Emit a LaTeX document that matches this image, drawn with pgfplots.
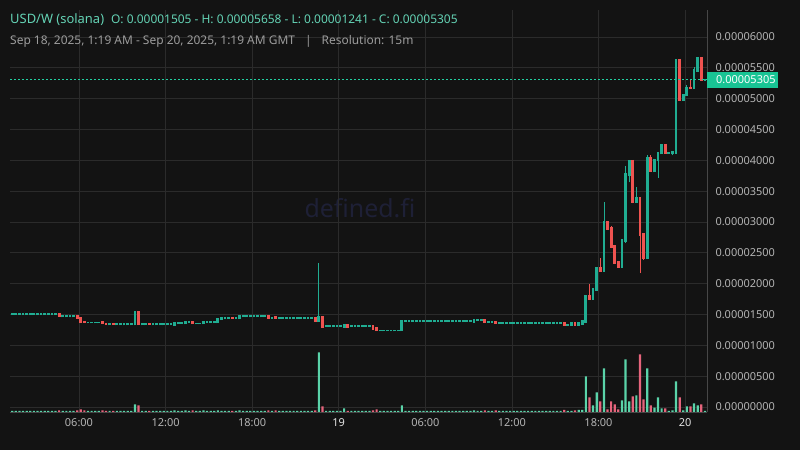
\documentclass[border=0pt]{standalone}
\usepackage{pgfplots}
\pgfplotsset{compat=1.18}
\usepackage{pgfplotstable}
\usepackage{fontspec}
\setmainfont{Noto Sans}

\definecolor{bg}{HTML}{131313}
\definecolor{gridcol}{HTML}{2B2B2B}
\definecolor{axisline}{HTML}{474747}
\definecolor{up}{HTML}{20AD92}
\definecolor{down}{HTML}{EF5350}
\definecolor{vup}{HTML}{5AD3A9}
\definecolor{vdown}{HTML}{E6647C}
\definecolor{closecol}{HTML}{18C494}
\definecolor{closeline}{HTML}{22CFA0}
\definecolor{titleteal}{HTML}{64D3B5}
\definecolor{subgrey}{HTML}{9C9C9C}
\definecolor{tickgrey}{HTML}{B4B4B4}
\definecolor{tickbright}{HTML}{E2E2E2}
\definecolor{wm}{HTML}{1E2036}

% 15m candles, i = index from Sep 18 01:15 GMT; prices in 1e-5, v = volume (relative)
\pgfplotstableread{
i o h l c v
0 1.505 1.505 1.505 1.505 1
1 1.505 1.505 1.505 1.505 1
2 1.505 1.505 1.505 1.505 1
3 1.505 1.505 1.505 1.505 1
4 1.505 1.505 1.505 1.505 1
5 1.505 1.505 1.505 1.505 1
6 1.505 1.505 1.505 1.505 1
7 1.505 1.505 1.505 1.505 1
8 1.505 1.505 1.505 1.505 1
9 1.505 1.505 1.505 1.505 1
10 1.505 1.505 1.505 1.505 1
11 1.505 1.505 1.505 1.505 1
12 1.505 1.505 1.505 1.505 1
13 1.505 1.505 1.465 1.470 1.7
14 1.47 1.47 1.47 1.47 1
15 1.47 1.47 1.47 1.47 1
16 1.47 1.47 1.47 1.47 1
17 1.47 1.47 1.47 1.47 1
18 1.47 1.47 1.435 1.435 1.7
19 1.44 1.44 1.38 1.38 2.7
20 1.385 1.385 1.37 1.37 1.7
21 1.37 1.37 1.37 1.37 1
22 1.37 1.37 1.37 1.37 1
23 1.37 1.37 1.37 1.37 1
24 1.37 1.37 1.37 1.37 1
25 1.375 1.375 1.355 1.355 1.7
26 1.355 1.355 1.34 1.34 1
27 1.34 1.34 1.34 1.34 1
28 1.345 1.345 1.34 1.34 1
29 1.34 1.34 1.34 1.34 1
30 1.34 1.34 1.34 1.34 1
31 1.34 1.34 1.34 1.34 1
32 1.34 1.34 1.34 1.34 1
33 1.34 1.34 1.34 1.34 1
34 1.34 1.54 1.34 1.54 7.7
35 1.54 1.54 1.34 1.34 6.7
36 1.34 1.34 1.34 1.34 1
37 1.34 1.34 1.34 1.34 1
38 1.345 1.345 1.34 1.34 1
39 1.34 1.34 1.34 1.34 1
40 1.34 1.34 1.34 1.34 1
41 1.34 1.34 1.34 1.34 1
42 1.34 1.34 1.34 1.34 1
43 1.34 1.34 1.34 1.34 1
44 1.34 1.34 1.34 1.34 1
45 1.335 1.36 1.335 1.36 1.7
46 1.357 1.357 1.357 1.357 1
47 1.357 1.357 1.357 1.357 1
48 1.355 1.375 1.355 1.375 1.7
49 1.375 1.375 1.375 1.375 1
50 1.375 1.375 1.355 1.355 1.7
51 1.355 1.355 1.355 1.355 1
52 1.355 1.355 1.355 1.355 1
53 1.355 1.375 1.355 1.375 1.7
54 1.373 1.373 1.373 1.373 1
55 1.373 1.373 1.373 1.373 1
56 1.373 1.373 1.373 1.373 1
57 1.37 1.43 1.37 1.43 1.7
58 1.425 1.445 1.425 1.44 1
59 1.44 1.44 1.44 1.44 1
60 1.44 1.44 1.44 1.44 1
61 1.443 1.443 1.438 1.438 1
62 1.438 1.438 1.438 1.438 1
63 1.435 1.47 1.435 1.47 1.7
64 1.47 1.47 1.47 1.47 1
65 1.47 1.47 1.47 1.47 1
66 1.47 1.47 1.47 1.47 1
67 1.47 1.47 1.47 1.47 1
68 1.47 1.47 1.47 1.47 1
69 1.47 1.47 1.47 1.47 1
70 1.47 1.47 1.47 1.47 1
71 1.47 1.47 1.435 1.435 1.7
72 1.44 1.44 1.44 1.44 1
73 1.455 1.455 1.435 1.435 1.7
74 1.438 1.438 1.438 1.438 1
75 1.438 1.438 1.438 1.438 1
76 1.438 1.438 1.438 1.438 1
77 1.438 1.438 1.438 1.438 1
78 1.438 1.438 1.438 1.438 1
79 1.438 1.438 1.438 1.438 1
80 1.438 1.438 1.438 1.438 1
81 1.438 1.438 1.438 1.438 1
82 1.438 1.438 1.438 1.438 1
83 1.438 1.438 1.438 1.438 1
84 1.44 1.44 1.40 1.40 1.7
85 1.39 2.33 1.39 1.455 59.7
86 1.455 1.455 1.30 1.30 5.7
87 1.313 1.313 1.313 1.313 1
88 1.313 1.313 1.313 1.313 1
89 1.313 1.313 1.313 1.313 1
90 1.313 1.313 1.313 1.313 1
91 1.313 1.313 1.313 1.313 1
92 1.30 1.35 1.30 1.33 3.7
93 1.33 1.33 1.30 1.30 1
94 1.313 1.313 1.313 1.313 1
95 1.313 1.313 1.313 1.313 1
96 1.313 1.313 1.313 1.313 1
97 1.313 1.313 1.313 1.313 1
98 1.313 1.313 1.313 1.313 1
99 1.313 1.313 1.313 1.313 1
100 1.313 1.313 1.265 1.265 1.7
101 1.275 1.275 1.241 1.241 2.7
102 1.241 1.241 1.241 1.241 1
103 1.241 1.241 1.241 1.241 1
104 1.241 1.241 1.241 1.241 1
105 1.241 1.241 1.241 1.241 1
106 1.241 1.241 1.241 1.241 1
107 1.241 1.241 1.241 1.241 1
108 1.241 1.39 1.241 1.39 6.7
109 1.39 1.39 1.39 1.39 1
110 1.39 1.39 1.39 1.39 1
111 1.39 1.39 1.39 1.39 1
112 1.39 1.39 1.39 1.39 1
113 1.39 1.39 1.39 1.39 1
114 1.39 1.39 1.39 1.39 1
115 1.39 1.39 1.39 1.39 1
116 1.39 1.39 1.39 1.39 1
117 1.39 1.39 1.39 1.39 1
118 1.39 1.39 1.39 1.39 1
119 1.39 1.39 1.39 1.39 1
120 1.39 1.39 1.39 1.39 1
121 1.39 1.39 1.39 1.39 1
122 1.39 1.39 1.39 1.39 1
123 1.39 1.39 1.39 1.39 1
124 1.39 1.39 1.39 1.39 1
125 1.39 1.39 1.39 1.39 1
126 1.39 1.39 1.39 1.39 1
127 1.39 1.39 1.39 1.39 1
128 1.385 1.41 1.385 1.41 1.7
129 1.405 1.405 1.405 1.405 1
130 1.405 1.405 1.405 1.405 1
131 1.41 1.41 1.36 1.375 1.7
132 1.373 1.373 1.373 1.373 1
133 1.373 1.373 1.373 1.373 1
134 1.375 1.375 1.357 1.357 1.7
135 1.357 1.357 1.357 1.357 1
136 1.357 1.357 1.357 1.357 1
137 1.357 1.357 1.357 1.357 1
138 1.357 1.357 1.357 1.357 1
139 1.357 1.357 1.357 1.357 1
140 1.357 1.357 1.357 1.357 1
141 1.357 1.357 1.357 1.357 1
142 1.357 1.357 1.357 1.357 1
143 1.357 1.357 1.357 1.357 1
144 1.357 1.357 1.357 1.357 1
145 1.357 1.357 1.357 1.357 1
146 1.357 1.357 1.357 1.357 1
147 1.357 1.357 1.357 1.357 1
148 1.357 1.357 1.357 1.357 1
149 1.357 1.357 1.357 1.357 1
150 1.357 1.357 1.357 1.357 1
151 1.357 1.357 1.357 1.357 1
152 1.357 1.357 1.357 1.357 1
153 1.36 1.36 1.335 1.335 2
154 1.335 1.335 1.335 1.335 1
155 1.335 1.36 1.335 1.36 1
156 1.36 1.36 1.335 1.335 1.7
157 1.335 1.37 1.335 1.37 2
158 1.345 1.395 1.345 1.395 2
159 1.38 1.80 1.38 1.80 35.7
160 1.80 2.00 1.74 1.75 14.7
161 1.75 1.91 1.74 1.91 6.7
162 1.90 2.25 1.90 2.25 19.7
163 2.25 2.41 2.21 2.21 10.7
164 2.21 3.32 2.21 3.00 43.7
165 3.00 3.00 2.89 2.89 2.7
166 2.90 2.93 2.57 2.59 10.7
167 2.61 2.61 2.33 2.33 7.7
168 2.35 2.35 2.25 2.27 2.7
169 2.27 2.71 2.27 2.71 11.7
170 2.69 3.90 2.66 3.78 52.7
171 3.76 3.99 3.64 3.99 10.7
172 3.99 3.99 3.30 3.32 15.7
173 3.32 3.57 3.32 3.39 16.7
174 3.39 3.39 2.17 2.79 57.7
175 2.80 2.80 2.38 2.42 12.7
176 2.42 4.09 2.42 4.04 43.7
177 4.04 4.08 3.82 3.82 6.7
178 3.82 4.00 3.82 4.00 4.3
179 4.00 4.12 3.72 4.12 14.7
180 4.11 4.25 4.11 4.25 3.7
181 4.25 4.25 4.11 4.11 3.7
182 4.12 4.12 4.12 4.12 1
183 4.11 4.13 4.08 4.13 1.7
184 4.12 5.64 4.10 5.63 30.7
185 5.63 5.63 4.98 4.98 14.7
186 4.98 5.06 4.98 5.06 1.7
187 5.05 5.22 5.05 5.18 5.7
188 5.18 5.32 5.17 5.17 5.7
189 5.17 5.51 5.17 5.47 8.7
190 5.45 5.658 5.45 5.658 6.7
191 5.658 5.658 5.305 5.305 7.7
192 5.305 5.305 5.305 5.305 1
}\candles

\pgfplotsset{
  isup/.style={restrict expr to domain={\thisrow{c}-\thisrow{o}}{0:100}},
  isdown/.style={restrict expr to domain={\thisrow{c}-\thisrow{o}}{-100:-0.0001}},
}

\begin{document}
\begin{tikzpicture}[x=1bp,y=1bp]
\fill[bg] (0,0) rectangle (800,450);
\node[text=wm, font=\fontsize{25}{30}\selectfont] at (360,242) {defined.fi};

\begin{axis}[
  at={(10bp,38bp)}, anchor=south west, scale only axis,
  width=697bp, height=402bp,
  xmin=1.22, xmax=49.52, ymin=-0.081, ymax=6.437,
  axis x line*=bottom, axis y line*=right,
  axis line style={draw=axisline, line width=0.8bp, -},
  major tick length=0pt,
  xtick={6,12,18,24,30,36,42,48},
  xticklabels={06:00,12:00,18:00,\textbf{\color{tickbright}19},06:00,12:00,18:00,\textbf{\color{tickbright}20}},
  ytick={0,0.5,1,1.5,2,2.5,3,3.5,4,4.5,5,5.5,6},
  yticklabels={0.00000000,0.00000500,0.00001000,0.00001500,0.00002000,0.00002500,0.00003000,0.00003500,0.00004000,0.00004500,0.00005000,0.00005500,0.00006000},
  grid=major, major grid style={draw=gridcol, line width=0.8bp},
  ticklabel style={font=\fontsize{11}{13}\selectfont, text=tickgrey},
  yticklabel style={xshift=5bp},
  xticklabel style={yshift=-3bp},
]
% wicks: low to high
\addplot[up, line width=0.8bp, -, isup, quiver={u=0, v=\thisrow{h}-\thisrow{l}}]
  table[x expr=1.375+0.25*\thisrow{i}, y=l]{\candles};
\addplot[down, line width=0.8bp, -, isdown, quiver={u=0, v=\thisrow{h}-\thisrow{l}}]
  table[x expr=1.375+0.25*\thisrow{i}, y=l]{\candles};
% bodies: open to close, padded so flat candles show as a dash
\addplot[up, line width=2.8bp, -, isup, quiver={u=0, v=\thisrow{c}-\thisrow{o}+0.03}]
  table[x expr=1.375+0.25*\thisrow{i}, y expr=\thisrow{o}-0.015]{\candles};
\addplot[down, line width=2.8bp, -, isdown, quiver={u=0, v=\thisrow{c}-\thisrow{o}-0.03}]
  table[x expr=1.375+0.25*\thisrow{i}, y expr=\thisrow{o}+0.015]{\candles};
% last close
\addplot[color=closeline, line width=1.2bp, dash pattern=on 2bp off 2bp] coordinates {(1.22,5.305) (49.52,5.305)};
\coordinate (cl) at (axis cs:49.52,5.305);
\end{axis}

\begin{axis}[
  at={(10bp,38bp)}, anchor=south west, scale only axis,
  width=697bp, height=402bp,
  xmin=1.22, xmax=49.52, ymin=0, ymax=402, hide axis,
]
\addplot[ybar, bar width=2.2bp, bar shift=0pt, fill=vup, draw=none, isup]
  table[x expr=1.375+0.25*\thisrow{i}, y=v]{\candles};
\addplot[ybar, bar width=2.2bp, bar shift=0pt, fill=vdown, draw=none, isdown]
  table[x expr=1.375+0.25*\thisrow{i}, y=v]{\candles};
\end{axis}

\fill[closecol] (cl) ++(0,-8) rectangle ++(71,16);
\node[anchor=west, inner sep=0pt, text=white, font=\fontsize{11}{13}\selectfont] at ([xshift=9bp]cl) {0.00005305};

\node[anchor=base west, inner sep=0pt, text=titleteal] at (10,426)
  {\fontsize{13}{15}\selectfont USD/W (solana)\hspace{7bp}\fontsize{12}{14}\selectfont O: 0.00001505 - H: 0.00005658 - L: 0.00001241 - C: 0.00005305};
\node[anchor=base west, inner sep=0pt, text=subgrey, font=\fontsize{12}{14}\selectfont] at (10,405.7)
  {Sep 18, 2025, 1:19 AM - Sep 20, 2025, 1:19 AM GMT\hspace{10bp}|\hspace{10bp}Resolution: 15m};
\end{tikzpicture}
\end{document}
